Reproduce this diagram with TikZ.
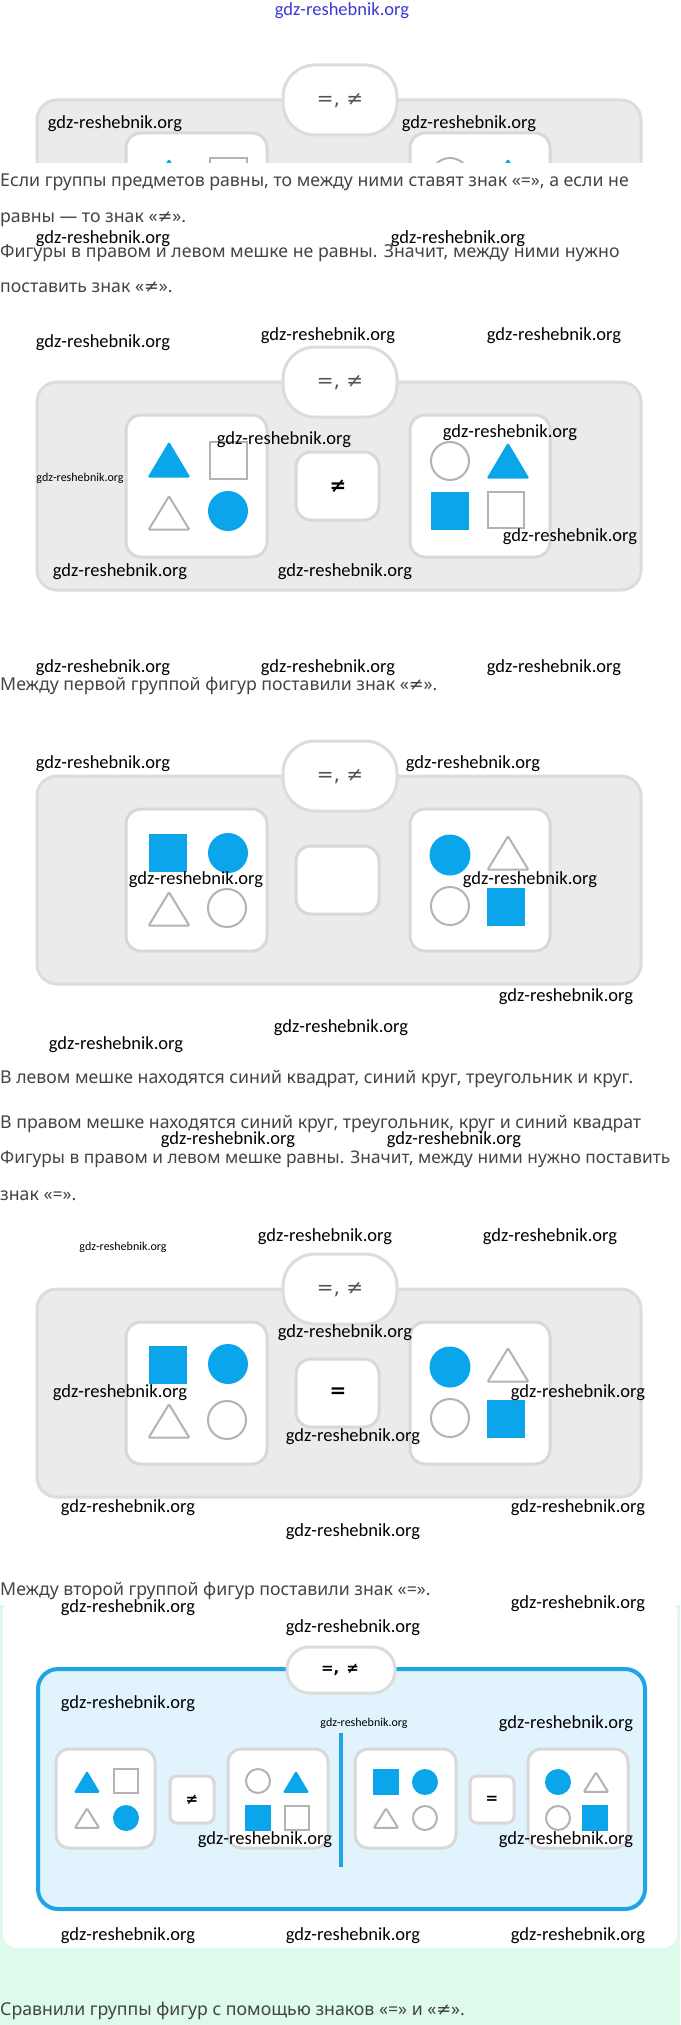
\documentclass[tikz,border=0pt]{standalone}
\usepackage{fontspec}
\setmainfont{Noto Sans}
\newfontfamily\wmf{Carlito}
\newfontfamily\symf{DejaVu Sans}
\definecolor{txt}{HTML}{444444}
\definecolor{sb}{HTML}{0BA5EC}
\definecolor{go}{HTML}{B3B3B3}
\definecolor{pbg}{HTML}{EBEBEB}
\definecolor{pbd}{HTML}{DCDCDC}
\definecolor{ibd}{HTML}{D8D8D8}
\definecolor{lbl}{HTML}{E1F3FC}
\definecolor{bbd}{HTML}{1EA5E6}
\definecolor{mint}{HTML}{DDFBEA}
\definecolor{wmblue}{HTML}{3A3AD6}
\definecolor{sgn}{HTML}{555555}
\newcommand\nes{{\symf ≠}}
\tikzset{
 para/.style={anchor=base west, inner sep=0pt, text=txt, font=\fontsize{17.7}{20}\selectfont},
 wm/.style={anchor=base, inner sep=0pt, text=black, font=\wmf\fontsize{18.5}{20}\selectfont},
 wms/.style={anchor=base, inner sep=0pt, text=black, font=\wmf\fontsize{12}{14}\selectfont},
 graybox/.style={fill=pbg, draw=pbd, line width=3pt, rounded corners=20pt},
 whitebox/.style={fill=white, draw=ibd, line width=3pt, rounded corners=15pt},
 smallbox/.style={fill=white, draw=ibd, line width=3pt, rounded corners=13pt},
 signbox/.style={fill=white, draw=ibd, line width=3pt, rounded corners=7pt},
 pillbox/.style={fill=white, draw=pbd, line width=3pt, rounded corners=32pt},
 grayline/.style={draw=go, line width=2pt},
 pilltext/.style={inner sep=0pt, text=sgn, font=\symf\fontsize{20}{22}\selectfont},
 signtext/.style={inner sep=0pt, text=black, font=\symf\bfseries\fontsize{20}{22}\selectfont},
 ssigntext/.style={inner sep=0pt, text=black, font=\symf\bfseries\fontsize{15}{17}\selectfont},
}
% shapes: center x, center y, half size
\newcommand\sqB[3]{\fill[sb] ({#1-#3},{#2-#3}) rectangle ({#1+#3},{#2+#3});}
\newcommand\sqG[3]{\draw[grayline] ({#1-#3+1},{#2-#3+1}) rectangle ({#1+#3-1},{#2+#3-1});}
\newcommand\ciB[3]{\fill[sb] (#1,#2) circle[radius=#3pt];}
\newcommand\ciG[3]{\draw[grayline] (#1,#2) circle[radius={#3-1}];}
\newcommand\trB[3]{\fill[sb, rounded corners=1.5pt] ({#1-#3*1.1},{#2+#3*0.9}) -- (#1,{#2-#3*0.95}) -- ({#1+#3*1.1},{#2+#3*0.9}) -- cycle;}
\newcommand\trG[3]{\draw[grayline, rounded corners=1pt] ({#1-#3*1.1+1.2},{#2+#3*0.9-1}) -- (#1,{#2-#3*0.95+1.8}) -- ({#1+#3*1.1-1.2},{#2+#3*0.9-1}) -- cycle;}
% big panel: #1 top y of gray box, #2 sign, #3 name prefix
\newcommand\bigpanel[3]{%
 \draw[graybox] (37,#1) rectangle (641,{#1+208});
 \draw[pillbox] (283,{#1-35}) rectangle (397,{#1+35});
 \node[pilltext] (#3pill) at (340,{#1+1}) {=, ≠};
 \draw[whitebox] (126,{#1+33}) rectangle (267,{#1+175});
 \draw[whitebox] (410,{#1+33}) rectangle (550,{#1+175});
 \draw[whitebox] (296,{#1+70}) rectangle (379,{#1+138});
 \node[signtext] (#3sign) at (338,{#1+104}) {#2};
}
\begin{document}
\begin{tikzpicture}[x=1pt,y=-1pt]
\useasboundingbox (0,0) rectangle (680,2025);
\fill[white] (0,0) rectangle (680,2025);
% ---------- panel 0 (cut) ----------
\begin{scope}
 \clip (0,0) rectangle (680,163);
 \bigpanel{100}{}{p0}
 \trB{169}{177}{19.5} \sqG{228}{177}{19.5}
 \ciG{450}{177}{20} \trB{508}{177}{19.5}
\end{scope}
% ---------- panel 1 ----------
\bigpanel{382}{≠}{p1}
\trB{169}{460}{19.5} \sqG{228}{460}{19.5}
\trG{169}{513}{19.5} \ciB{228}{511}{20}
\ciG{450}{461}{20} \trB{508}{461}{19.5}
\sqB{450}{511}{19} \sqG{506}{510}{19}
% ---------- panel 2 ----------
\bigpanel{776}{}{p2}
\sqB{168}{853}{19} \ciB{228}{853}{20}
\trG{169}{909}{19.5} \ciG{227}{908}{20}
\ciB{450}{855}{20.5} \trG{508}{853}{19.5}
\ciG{450}{906}{20} \sqB{506}{907}{19}
% ---------- panel 3 ----------
\bigpanel{1289}{=}{p3}
\sqB{168}{1365}{19} \ciB{228}{1364}{20}
\trG{169}{1421}{19.5} \ciG{227}{1420}{20}
\ciB{450}{1367}{20.5} \trG{508}{1365}{19.5}
\ciG{450}{1418}{20} \sqB{506}{1419}{19}
% ---------- panel 4 ----------
\fill[mint] (0,1598) rectangle (680,2025);
\fill[white, rounded corners=14pt] (3,1598) rectangle (677,1948);
\fill[white] (0,1560) rectangle (680,1605);
\draw[fill=lbl, draw=bbd, line width=4pt, rounded corners=20pt] (38,1669) rectangle (645,1909);
\draw[pillbox, rounded corners=22pt] (287,1647) rectangle (395,1693);
\node[ssigntext] (p4pill) at (340,1670) {=,\hspace{7pt}≠};
\draw[bbd, line width=4pt] (341,1733) -- (341,1867);
\draw[smallbox] (56,1749) rectangle (155,1848);
\draw[smallbox] (228,1749) rectangle (328,1848);
\draw[smallbox] (355,1749) rectangle (456,1848);
\draw[smallbox] (528,1749) rectangle (628,1848);
\draw[signbox] (170,1776) rectangle (214,1823);
\draw[signbox] (470,1776) rectangle (514,1823);
\node[ssigntext] (p4s1) at (192,1800) {≠};
\node[ssigntext] (p4s2) at (492,1800) {=};
% box1
\trB{87}{1782}{12} \sqG{126}{1781}{13}
\trG{87}{1818}{12} \ciB{126}{1818}{13}
% box2
\ciG{258}{1781}{13} \trB{296}{1782}{12}
\sqB{258}{1818}{13} \sqG{297}{1818}{13}
% box3
\sqB{386}{1782}{13} \ciB{425}{1782}{13}
\trG{386}{1818}{12} \ciG{425}{1818}{13}
% box4
\ciB{558}{1782}{13} \trG{596}{1782}{12}
\ciG{558}{1818}{13} \sqB{595}{1818}{13}
% ---------- paragraphs ----------
\node[para] (t1) at (0,187) {Если группы предметов равны, то между ними ставят знак «=», а если не};
\node[para] (t2) at (0,223) {равны — то знак «\nes».};
\node[para] (t3) at (0,258) {Фигуры в правом и левом мешке не равны. Значит, между ними нужно};
\node[para] (t4) at (0,293) {поставить знак «\nes».};
\node[para] (t5) at (0,690) {Между первой группой фигур поставили знак «\nes».};
\node[para] (t6) at (0,1083) {В левом мешке находятся синий квадрат, синий круг, треугольник и круг.};
\node[para] (t7) at (0,1128) {В правом мешке находятся синий круг, треугольник, круг и синий квадрат};
\node[para, font=\fontsize{17.3}{20}\selectfont] (t8) at (0,1163) {Фигуры в правом и левом мешке равны. Значит, между ними нужно поставить};
\node[para] (t9) at (0,1200) {знак «=».};
\node[para] (t10) at (0,1595) {Между второй группой фигур поставили знак «=».};
\node[para] (t11) at (0,2015) {Сравнили группы фигур с помощью знаков «=» и «\nes».};
% ---------- watermarks ----------
\node[wm, text=wmblue] (w0) at (342,16) {gdz-reshebnik.org};
\node[wm] (w1) at (115,129) {gdz-reshebnik.org};
\node[wm] (w2) at (469,129) {gdz-reshebnik.org};
\node[wm] (w3) at (103,244) {gdz-reshebnik.org};
\node[wm] (w4) at (458,244) {gdz-reshebnik.org};
\node[wm] (w5) at (103,347) {gdz-reshebnik.org};
\node[wm] (w6) at (328,340) {gdz-reshebnik.org};
\node[wm] (w7) at (554,340) {gdz-reshebnik.org};
\node[wm] (w8) at (284,444) {gdz-reshebnik.org};
\node[wm] (w9) at (510,437) {gdz-reshebnik.org};
\node[wms] (w10) at (80,481) {gdz-reshebnik.org};
\node[wm] (w11) at (570,541) {gdz-reshebnik.org};
\node[wm] (w12) at (120,576) {gdz-reshebnik.org};
\node[wm] (w13) at (345,576) {gdz-reshebnik.org};
\node[wm] (w14) at (103,672) {gdz-reshebnik.org};
\node[wm] (w15) at (328,672) {gdz-reshebnik.org};
\node[wm] (w16) at (554,672) {gdz-reshebnik.org};
\node[wm] (w17) at (103,768) {gdz-reshebnik.org};
\node[wm] (w18) at (473,768) {gdz-reshebnik.org};
\node[wm] (w19) at (196,884) {gdz-reshebnik.org};
\node[wm] (w20) at (530,884) {gdz-reshebnik.org};
\node[wm] (w21) at (566,1001) {gdz-reshebnik.org};
\node[wm] (w22) at (341,1032) {gdz-reshebnik.org};
\node[wm] (w23) at (116,1049) {gdz-reshebnik.org};
\node[wm] (w24) at (228,1144) {gdz-reshebnik.org};
\node[wm] (w25) at (454,1144) {gdz-reshebnik.org};
\node[wms] (w26) at (123,1250) {gdz-reshebnik.org};
\node[wm] (w27) at (325,1241) {gdz-reshebnik.org};
\node[wm] (w28) at (550,1241) {gdz-reshebnik.org};
\node[wm] (w29) at (345,1337) {gdz-reshebnik.org};
\node[wm] (w30) at (120,1397) {gdz-reshebnik.org};
\node[wm] (w31) at (578,1397) {gdz-reshebnik.org};
\node[wm] (w32) at (353,1441) {gdz-reshebnik.org};
\node[wm] (w33) at (128,1512) {gdz-reshebnik.org};
\node[wm] (w34) at (578,1512) {gdz-reshebnik.org};
\node[wm] (w35) at (353,1536) {gdz-reshebnik.org};
\node[wm] (w36) at (128,1612) {gdz-reshebnik.org};
\node[wm] (w37) at (578,1608) {gdz-reshebnik.org};
\node[wm] (w38) at (353,1632) {gdz-reshebnik.org};
\node[wm] (w39) at (128,1708) {gdz-reshebnik.org};
\node[wms] (w40) at (364,1726) {gdz-reshebnik.org};
\node[wm] (w41) at (566,1728) {gdz-reshebnik.org};
\node[wm] (w42) at (265,1844) {gdz-reshebnik.org};
\node[wm] (w43) at (566,1844) {gdz-reshebnik.org};
\node[wm] (w44) at (128,1940) {gdz-reshebnik.org};
\node[wm] (w45) at (353,1940) {gdz-reshebnik.org};
\node[wm] (w46) at (578,1940) {gdz-reshebnik.org};
\end{tikzpicture}
\end{document}
